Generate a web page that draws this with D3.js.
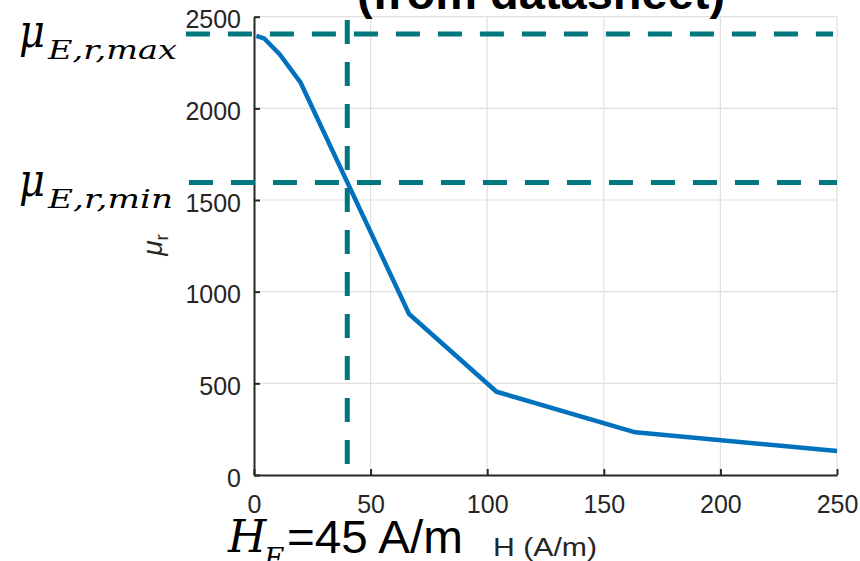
<!DOCTYPE html>
<html>
<head>
<meta charset="utf-8">
<script src="https://cdn.jsdelivr.net/npm/d3@7"></script>
<style>
  html, body { margin: 0; padding: 0; background: #fff; }
  svg { display: block; }
</style>
</head>
<body>
<svg id="chart" width="860" height="561"></svg>
<script>
// Relative permeability curve, field strength H in A/m
const fieldH = [1, 4.5, 11, 20, 66.5, 104, 163.5, 250];
const muR    = [2395, 2380, 2295, 2140, 878, 454, 233, 131];

// Tick values
const xTicks = [0, 50, 100, 150, 200, 250];
const yTicks = [0, 500, 1000, 1500, 2000, 2500];

// Reference levels: mu_E,r,max and mu_E,r,min, with the H range each dashed line spans
const refMu      = [2405, 1595];
const refMuSpans = [[-29.2, 248.3], [-27.9, 250]];
const refMuNames = ["max", "min"];

// Operating field strength marker and the mu range it spans
const opH      = 40;
const opHSpan  = [0, 2482];

const svg = d3.select("#chart");

const x = d3.scaleLinear().domain([0, 250]).range([254, 837]);
const y = d3.scaleLinear().domain([0, 2500]).range([475, 16.7]);

const ink = "#262626";
const teal = "#00767f";
const blue = "#0072bd";
const sans = "'Liberation Sans', Arial, sans-serif";
const serif = "'DejaVu Serif', serif";

// Grid
const grid = svg.append("g");
grid.selectAll("line.gx").data(xTicks.filter(d => d > 0)).join("line")
  .attr("x1", d => x(d)).attr("x2", d => x(d))
  .attr("y1", y(0)).attr("y2", y(2500))
  .attr("stroke", "#e0e0e0").attr("stroke-width", 1.2);
grid.selectAll("line.gy").data(yTicks.filter(d => d > 0)).join("line")
  .attr("x1", x(0)).attr("x2", x(250))
  .attr("y1", d => y(d)).attr("y2", d => y(d))
  .attr("stroke", "#e0e0e0").attr("stroke-width", 1.2);

// Curve
const pts = fieldH.map((h, i) => [h, muR[i]]);
svg.append("path")
  .datum(pts)
  .attr("fill", "none")
  .attr("stroke", blue)
  .attr("stroke-width", 4.5)
  .attr("stroke-linejoin", "round")
  .attr("d", d3.line().x(d => x(d[0])).y(d => y(d[1])));

// Axes (ticks point inward)
const fmt = d3.format("d");
const xAxis = d3.axisBottom(x).tickValues(xTicks).tickFormat(fmt).tickSizeInner(-6).tickSizeOuter(0);
const yAxis = d3.axisLeft(y).tickValues(yTicks).tickFormat(fmt).tickSizeInner(-6).tickSizeOuter(0);

const gx = svg.append("g").attr("transform", `translate(0,${y(0)})`).call(xAxis);
const gy = svg.append("g").attr("transform", `translate(${x(0)},0)`).call(yAxis);

[gx, gy].forEach(g => {
  g.select(".domain").attr("stroke", ink).attr("stroke-width", 2);
  g.selectAll(".tick line").attr("stroke", ink).attr("stroke-width", 2);
  g.selectAll(".tick text").attr("fill", ink).style("font-family", sans).style("font-size", "25px");
});
gx.selectAll(".tick text").attr("dy", "0.71em").attr("y", 20);
gy.selectAll(".tick text").attr("dy", "0.45em").attr("x", -13);

// Axis labels
svg.append("text")
  .attr("x", 493).attr("y", 556)
  .attr("textLength", 104).attr("lengthAdjust", "spacingAndGlyphs")
  .style("font-family", sans).style("font-size", "26px").attr("fill", ink)
  .text("H (A/m)");

const yl = svg.append("text")
  .attr("transform", "translate(162,245) rotate(-90)")
  .attr("text-anchor", "middle")
  .style("font-family", sans).style("font-size", "28px").attr("fill", ink);
yl.append("tspan").style("font-style", "italic").text("μ");
yl.append("tspan").attr("dy", 6).style("font-size", "19px").text("r");

// Title (second line)
svg.append("text")
  .attr("x", 541).attr("y", 9)
  .attr("text-anchor", "middle")
  .style("font-family", sans).style("font-size", "47px").style("font-weight", "bold")
  .attr("fill", "#000")
  .text("(from datasheet)");

// Dashed reference lines
svg.selectAll("line.ref").data(refMu).join("line")
  .attr("x1", (d, i) => x(refMuSpans[i][0]))
  .attr("x2", (d, i) => x(refMuSpans[i][1]))
  .attr("y1", d => y(d)).attr("y2", d => y(d))
  .attr("stroke", teal).attr("stroke-width", 5)
  .attr("stroke-dasharray", "24 18");

svg.append("line")
  .attr("x1", x(opH)).attr("x2", x(opH))
  .attr("y1", y(opHSpan[1])).attr("y2", y(opHSpan[0]))
  .attr("stroke", teal).attr("stroke-width", 5)
  .attr("stroke-dasharray", "24 18");

// Reference level names
refMu.forEach((v, i) => {
  const base = y(v) + 13;
  svg.append("text")
    .attr("x", 19).attr("y", base)
    .attr("textLength", 26).attr("lengthAdjust", "spacingAndGlyphs")
    .style("font-family", serif).style("font-style", "italic").style("font-size", "46px")
    .attr("fill", "#000")
    .text("μ");
  svg.append("text")
    .attr("x", 48).attr("y", base + 12)
    .attr("textLength", refMuNames[i] === "max" ? 129 : 125)
    .attr("lengthAdjust", "spacingAndGlyphs")
    .style("font-family", serif).style("font-style", "italic").style("font-size", "26px")
    .attr("fill", "#000")
    .text("E,r," + refMuNames[i]);
});

// Operating field strength label
svg.append("text")
  .attr("x", 228).attr("y", 552)
  .style("font-family", serif).style("font-style", "italic").style("font-size", "44px")
  .attr("fill", "#000")
  .text("H");
svg.append("text")
  .attr("x", 264).attr("y", 568)
  .style("font-family", serif).style("font-style", "italic").style("font-size", "28px")
  .attr("fill", "#000")
  .text("E");
svg.append("text")
  .attr("x", 287).attr("y", 553)
  .attr("textLength", 176).attr("lengthAdjust", "spacingAndGlyphs")
  .style("font-family", sans).style("font-size", "46px")
  .attr("fill", "#000")
  .text("=45 A/m");
</script>
</body>
</html>
